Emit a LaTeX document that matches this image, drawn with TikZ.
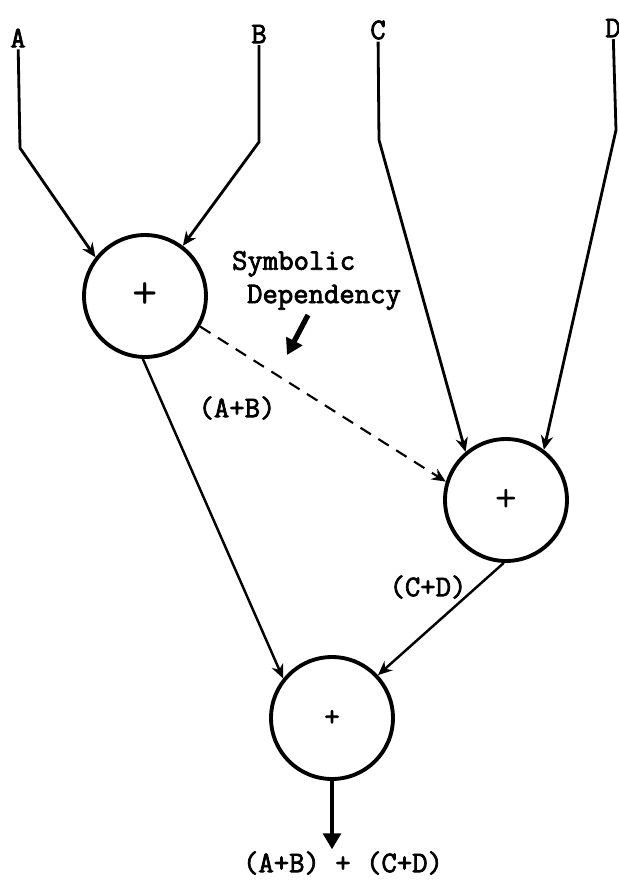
\documentclass[tikz,border=0pt]{standalone}
\usepackage{fontspec}
\setmonofont[AutoFakeBold=2.5]{Latin Modern Mono}
\usetikzlibrary{arrows.meta}

\begin{document}
\begin{tikzpicture}[x=0.02cm,y=-0.02cm,
    adder/.style={draw,circle,line width=2.2pt,minimum size=2.44cm,inner sep=0pt},
    flow/.style={line width=1.6pt,-{Stealth[length=8pt,width=7pt]}},
    pointer/.style={line width=3pt,-{Triangle[length=9pt,width=10pt]}},
    figtext/.style={font=\ttfamily\bfseries\fontsize{17}{19}\selectfont,inner sep=1pt}]
    \useasboundingbox (0,0) rectangle (619,880);
    % operand names at the top
    \node[figtext] (A) at (18,38) {A};
    \node[figtext] (B) at (259,34) {B};
    \node[figtext] (C) at (378,30) {C};
    \node[figtext] (D) at (613,28) {D};
    % bends in the input wires
    \coordinate (bendA) at (20,148);
    \coordinate (bendB) at (259,142);
    \coordinate (bendC) at (379,140);
    \coordinate (bendD) at (616,130);
    % the three adders
    \node[adder,font=\ttfamily\fontsize{28}{28}\selectfont] (add1) at (145,296) {+};
    \node[adder,font=\ttfamily\fontsize{24}{24}\selectfont] (add2) at (506,500) {+};
    \node[adder,font=\ttfamily\bfseries\fontsize{17}{17}\selectfont] (add3) at (332,718) {+};
    % final sum
    \node[figtext] (result) at (343,863) {(A+B) + (C+D)};
    % input wires
    \draw[flow] (A) -- (bendA) -- (add1.142);
    \draw[flow] (B) -- (bendB) -- (add1.53);
    \draw[flow] (C) -- (bendC) -- (add2.130);
    \draw[flow] (D) -- (bendD) -- (add2.53);
    % partial sums into the last adder
    \draw[flow,line width=1.4pt] (add1.-92) -- (add3.141);
    \draw[flow,line width=1.4pt] (add2.-92) -- (add3.43);
    \node[figtext] (sumAB) at (237,408) {(A+B)};
    \node[figtext] (sumCD) at (428,587) {(C+D)};
    % output
    \draw[pointer,line width=2pt] (add3.south) -- (add3.south |- result.north);
    % symbolic dependency (dashed)
    \draw[flow,line width=1.2pt,dash pattern=on 7pt off 5pt] (add1.-29) -- (add2.163);
    \node[figtext,align=left,anchor=north west] (symdep) at (230,249) {Symbolic\\\hspace*{0.3cm}Dependency};
    \coordinate (ptrtail) at (308,315);
    \coordinate (ptrhead) at (287,355);
    \draw[pointer] (ptrtail) -- (ptrhead);
\end{tikzpicture}
\end{document}
